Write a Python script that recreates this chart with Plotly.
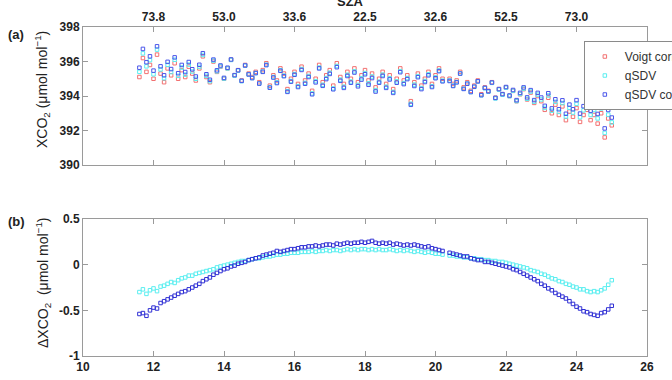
import numpy as np
import plotly.graph_objects as go

# ---------------- data ----------------
hours = [11.6, 11.7, 11.8, 11.9,
         12.0, 12.1, 12.2, 12.3, 12.4, 12.5, 12.6, 12.7, 12.8, 12.9,
         13.0, 13.1, 13.2, 13.3, 13.4, 13.5, 13.6, 13.7, 13.8, 13.9,
         14.0, 14.1, 14.2, 14.3, 14.4, 14.5, 14.6, 14.7, 14.8, 14.9,
         15.0, 15.1, 15.2, 15.3, 15.4, 15.5, 15.6, 15.7, 15.8, 15.9,
         16.0, 16.1, 16.2, 16.3, 16.4, 16.5, 16.6, 16.7, 16.8, 16.9,
         17.0, 17.1, 17.2, 17.3, 17.4, 17.5, 17.6, 17.7, 17.8, 17.9,
         18.0, 18.1, 18.2, 18.3, 18.4, 18.5, 18.6, 18.7, 18.8, 18.9,
         19.0, 19.1, 19.2, 19.3, 19.4, 19.5, 19.6, 19.7, 19.8, 19.9,
         20.0, 20.1, 20.2, 20.3, 20.4, 20.5, 20.6, 20.7, 20.8, 20.9,
         21.0, 21.1, 21.2, 21.3, 21.4, 21.5, 21.6, 21.7, 21.8, 21.9,
         22.0, 22.1, 22.2, 22.3, 22.4, 22.5, 22.6, 22.7, 22.8, 22.9,
         23.0, 23.1, 23.2, 23.3, 23.4, 23.5, 23.6, 23.7, 23.8, 23.9,
         24.0, 24.1, 24.2, 24.3, 24.4, 24.5, 24.6, 24.7, 24.8, 24.9,
         25.0]

# XCO2 retrieved with Voigt (corrected), ppm
xco2_voigt = [395.1, 396.2, 395.4, 395.8,
              395.0, 396.4, 395.3, 394.8, 395.6, 395.2, 395.9, 395.0, 395.5, 395.1,
              395.7, 395.3, 394.9, 395.6, 396.3, 395.1, 394.8, 396.0, 395.4, 395.7,
              395.0, 395.6, 396.1, 395.2, 395.5, 394.9, 395.8, 395.3, 395.1, 395.4,
              394.8, 395.5, 395.9, 394.6, 395.2, 394.9, 395.6, 395.3, 394.4, 395.0,
              395.4, 394.7, 395.7, 394.9, 395.3, 394.3, 395.0, 395.8, 394.8, 395.2,
              395.5, 394.6, 395.9, 395.1, 394.7, 395.4, 395.0, 395.6, 394.8, 395.2,
              395.5, 394.9, 395.3, 394.5, 395.0, 395.4, 394.7, 395.2, 394.4, 395.0,
              395.6, 394.9, 395.2, 393.7, 394.8, 395.3, 394.6, 395.0, 395.4, 394.7,
              395.2, 395.6, 395.0, None, 395.0, 394.7, 394.9, 395.4, 394.5, 394.8,
              394.3, 394.6, 394.9, 394.1, 394.5, 394.3, 394.8, 393.9, 394.4, 394.1,
              394.5, 394.0, 394.3, 393.7, 394.1, 394.4, 393.8, 394.2, 393.6, 394.0,
              393.7, 393.2, 393.9, 393.0, 393.5, 392.9, 393.4, 392.6, 393.1, 392.8,
              393.3, 392.5, 392.9, 393.2, 392.6, 392.9, 392.4, 393.0, 391.6, 392.7,
              392.3]

# Delta XCO2 (Voigt - qSDV), ppm
dxco2_qsdv = [-0.30, -0.27, -0.32, -0.28,
              -0.26, -0.29, -0.24, -0.23, -0.21, -0.19, -0.20, -0.17, -0.15, -0.14,
              -0.12, -0.12, -0.10, -0.09, -0.08, -0.07, -0.06, -0.05, -0.03, -0.02,
              -0.01, 0.00, 0.01, 0.02, 0.03, 0.04, 0.04, 0.05, 0.06, 0.07,
              0.07, 0.08, 0.09, 0.09, 0.10, 0.11, 0.11, 0.12, 0.12, 0.13,
              0.13, 0.13, 0.14, 0.14, 0.14, 0.15, 0.14, 0.15, 0.15, 0.16,
              0.15, 0.16, 0.16, 0.15, 0.16, 0.17, 0.16, 0.17, 0.16, 0.17,
              0.17, 0.16, 0.17, 0.16, 0.17, 0.16, 0.16, 0.17, 0.16, 0.15,
              0.16, 0.15, 0.16, 0.15, 0.14, 0.15, 0.14, 0.13, 0.14, 0.13,
              0.12, 0.12, 0.11, None, 0.10, 0.10, 0.09, 0.09, 0.08, 0.08,
              0.07, 0.07, 0.06, 0.06, 0.05, 0.05, 0.04, 0.04, 0.03, 0.03,
              0.02, 0.01, 0.00, -0.01, -0.02, -0.03, -0.04, -0.06, -0.07, -0.08,
              -0.10, -0.11, -0.13, -0.15, -0.16, -0.18, -0.19, -0.21, -0.22, -0.24,
              -0.25, -0.27, -0.27, -0.29, -0.30, -0.29, -0.30, -0.28, -0.26, -0.22,
              -0.17]

# Delta XCO2 (Voigt - qSDV corrected), ppm
dxco2_qsdv_corr = [-0.54, -0.53, -0.56, -0.50,
                   -0.47, -0.48, -0.42, -0.40, -0.38, -0.36, -0.34, -0.32, -0.30, -0.29,
                   -0.27, -0.25, -0.23, -0.21, -0.18, -0.16, -0.14, -0.11, -0.09, -0.07,
                   -0.05, -0.04, -0.02, -0.01, 0.01, 0.02, 0.03, 0.05, 0.06, 0.07,
                   0.08, 0.10, 0.11, 0.12, 0.13, 0.15, 0.14, 0.15, 0.16, 0.17,
                   0.17, 0.18, 0.19, 0.19, 0.20, 0.20, 0.21, 0.20, 0.21, 0.22,
                   0.22, 0.21, 0.23, 0.22, 0.23, 0.24, 0.23, 0.24, 0.24, 0.25,
                   0.24, 0.25, 0.26, 0.24, 0.23, 0.24, 0.23, 0.24, 0.22, 0.23,
                   0.22, 0.21, 0.22, 0.21, 0.22, 0.21, 0.20, 0.19, 0.20, 0.18,
                   0.17, 0.16, 0.15, None, 0.13, 0.12, 0.11, 0.10, 0.09, 0.09,
                   0.07, 0.06, 0.05, 0.05, 0.03, 0.03, 0.02, 0.01, 0.00, -0.01,
                   -0.02, -0.03, -0.05, -0.06, -0.08, -0.10, -0.12, -0.14, -0.16, -0.18,
                   -0.21, -0.23, -0.26, -0.28, -0.31, -0.33, -0.35, -0.37, -0.40, -0.43,
                   -0.46, -0.48, -0.51, -0.52, -0.54, -0.55, -0.56, -0.53, -0.52, -0.49,
                   -0.45]

sza_tick_hours = [12, 14, 16, 18, 20, 22, 24]
sza_tick_labels = ["73.8", "53.0", "33.6", "22.5", "32.6", "52.5", "73.0"]
hour_ticks = [10, 12, 14, 16, 18, 20, 22, 24, 26]
xco2_ticks = [390, 392, 394, 396, 398]
dxco2_ticks = [-1, -0.5, 0, 0.5]
dxco2_tick_labels = ["-1", "-0.5", "0", "0.5"]
series_names = ["Voigt corrected", "qSDV", "qSDV corrected"]

assert len(hours) == len(xco2_voigt) == len(dxco2_qsdv) == len(dxco2_qsdv_corr)

v = np.array(xco2_voigt, dtype=float)
xco2_qsdv = v - np.array(dxco2_qsdv, dtype=float)
xco2_qsdv_corr = v - np.array(dxco2_qsdv_corr, dtype=float)

# ---------------- style ----------------
RED = "#f27070"
CYAN = "#5aeef0"
BLUE = "#4a56ea"
BLUE_B = "#3030d4"
FONT = "Arial, Liberation Sans, sans-serif"
AX = "#9a9a9a"
TXT = "#222222"


def mk(color, size=3.5, lw=1.0):
    return dict(symbol="square-open", size=size, color=color, line=dict(width=lw, color=color))


fig = go.Figure()
fig.add_trace(go.Scatter(x=hours, y=v, mode="markers", name=series_names[0],
                         marker=mk(RED), xaxis="x", yaxis="y"))
fig.add_trace(go.Scatter(x=hours, y=xco2_qsdv, mode="markers", name=series_names[1],
                         marker=mk(CYAN), xaxis="x", yaxis="y"))
fig.add_trace(go.Scatter(x=hours, y=xco2_qsdv_corr, mode="markers", name=series_names[2],
                         marker=mk(BLUE), xaxis="x", yaxis="y"))
fig.add_trace(go.Scatter(x=hours, y=dxco2_qsdv, mode="markers", name=series_names[1],
                         marker=mk(CYAN), xaxis="x2", yaxis="y2", showlegend=False))
fig.add_trace(go.Scatter(x=hours, y=dxco2_qsdv_corr, mode="markers", name=series_names[2],
                         marker=mk(BLUE_B), xaxis="x2", yaxis="y2", showlegend=False))

axis_common = dict(showline=True, linecolor=AX, linewidth=1, ticks="inside", ticklen=5,
                   tickcolor=AX, mirror="ticks", showgrid=False, zeroline=False,
                   tickfont=dict(family=FONT, size=12, color=TXT, weight="bold"))

H_PLOT = 380 - 27 - 24
fig.update_layout(
    width=672, height=380,
    margin=dict(l=83, r=25, t=27, b=24, autoexpand=False),
    paper_bgcolor="white", plot_bgcolor="white",
    font=dict(family=FONT, color=TXT),
    xaxis=dict(domain=[0, 1], range=[10, 26], side="top", anchor="y",
               tickvals=sza_tick_hours, ticktext=sza_tick_labels, **axis_common),
    yaxis=dict(domain=[(356 - 165) / H_PLOT, 1], range=[390, 398], anchor="x",
               tickvals=xco2_ticks, **axis_common),
    xaxis2=dict(domain=[0, 1], range=[10, 26], anchor="y2",
                tickvals=hour_ticks, **axis_common),
    yaxis2=dict(domain=[0, (356 - 219) / H_PLOT], range=[-1, 0.5], anchor="x2",
                tickvals=dxco2_ticks, ticktext=dxco2_tick_labels, **axis_common),
    legend=dict(x=0.888, y=(356 - 41) / H_PLOT, xanchor="left", yanchor="top",
                bgcolor="white", bordercolor="#8a8a8a", borderwidth=1,
                font=dict(family=FONT, size=12, color="#333333"),
                tracegroupgap=0, itemwidth=30),
    showlegend=True,
)

ann = [
    dict(text="SZA", x=0.475, y=(356 - 1) / H_PLOT, xref="paper", yref="paper",
         xanchor="center", yanchor="middle", showarrow=False,
         font=dict(family=FONT, size=13, color=TXT, weight="bold")),
    dict(text="(a)", x=(16 - 83) / 564, y=(356 - 34) / H_PLOT, xref="paper", yref="paper",
         xanchor="center", yanchor="middle", showarrow=False,
         font=dict(family=FONT, size=13, color=TXT, weight="bold")),
    dict(text="(b)", x=(16 - 83) / 564, y=(356 - 221) / H_PLOT, xref="paper", yref="paper",
         xanchor="center", yanchor="middle", showarrow=False,
         font=dict(family=FONT, size=13, color=TXT, weight="bold")),
    dict(text="XCO<sub>2</sub> (μmol mol<sup>−1</sup>)", x=(42 - 83) / 564,
         y=(356 - 90) / H_PLOT, xref="paper", yref="paper", textangle=-90,
         xanchor="center", yanchor="middle", showarrow=False,
         font=dict(family=FONT, size=14, color=TXT)),
    dict(text="ΔXCO<sub>2</sub>  (μmol mol<sup>−1</sup>)", x=(43 - 83) / 564,
         y=(356 - 283) / H_PLOT, xref="paper", yref="paper", textangle=-90,
         xanchor="center", yanchor="middle", showarrow=False,
         font=dict(family=FONT, size=14, color=TXT)),
]
fig.update_layout(annotations=ann)

fig.write_html("out.html")
